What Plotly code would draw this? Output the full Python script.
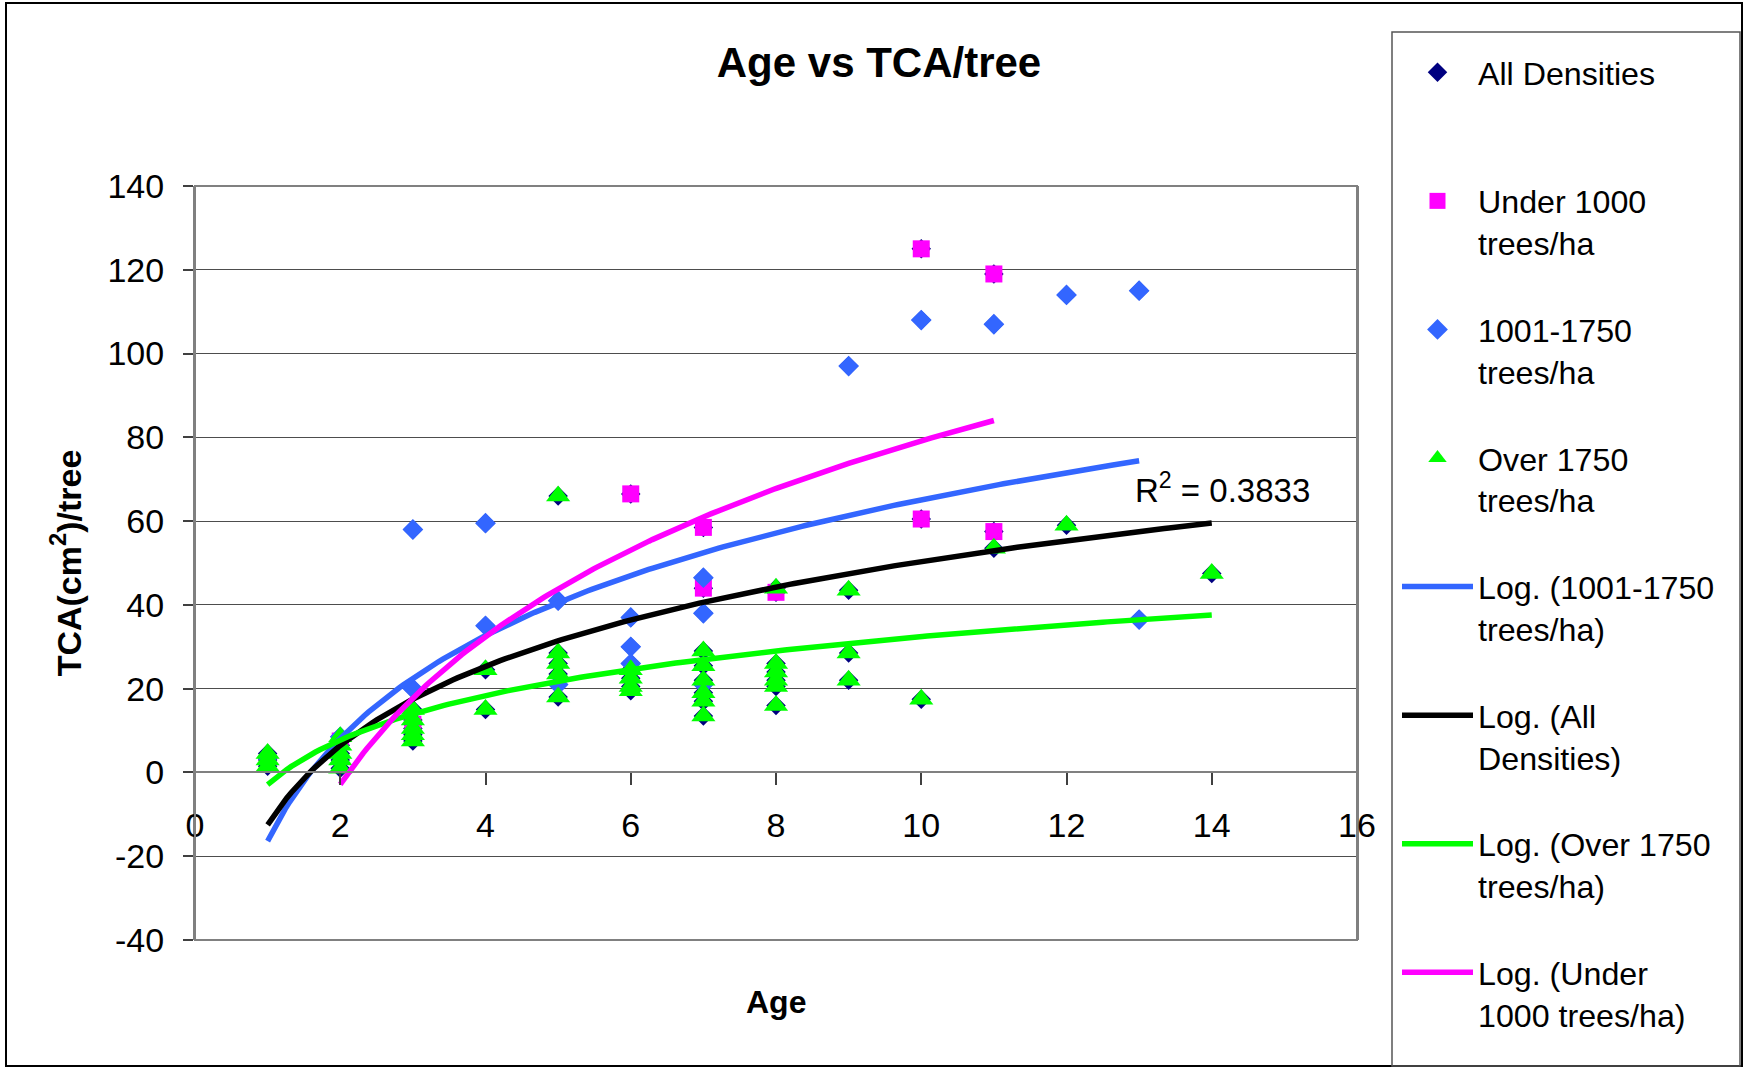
import numpy as np
import plotly.graph_objects as go

# ---------------- data ----------------
under_x = [2, 3, 6, 7, 7, 8, 10, 10, 11, 11]
under_y = [7.5, 11.5, 66.5, 58.5, 44, 43, 125, 60.5, 119, 57.5]

mid_x = [1, 2, 3, 3, 4, 4, 5, 5, 6, 6, 6, 7, 7, 7, 9, 10, 11, 12, 13, 13]
mid_y = [3.5, 8.5, 58, 20, 59.5, 35, 41, 21, 37, 30, 26, 46.5, 38, 21, 97, 108, 107, 114, 115, 36.5]

over_x = [1, 1, 1,
          2, 2, 2, 2, 2,
          3, 3, 3, 3, 3,
          4, 4,
          5, 5, 5, 5, 5,
          6, 6, 6, 6,
          7, 7, 7, 7, 7, 7,
          8, 8, 8, 8, 8, 8,
          9, 9, 9,
          10, 11, 12, 14]
over_y = [4.5, 3, 1.5,
          8.5, 6.5, 4.5, 3, 1,
          15, 12.5, 10.5, 9, 7.5,
          24.5, 15,
          66, 28.5, 26, 23.5, 18,
          24.5, 22.5, 20.5, 19.5,
          29, 25.5, 22, 19, 17, 13.5,
          44, 26, 24, 22, 20.5, 16,
          43.5, 28.5, 22,
          17.5, 53.5, 59, 47.5]

# All Densities = every plotted point
all_x = under_x + mid_x + over_x
all_y = under_y + mid_y + over_y

# logarithmic trendlines y = a*ln(x) + b (coefficients)
trend_names = ["Log. (1001-1750<br>trees/ha)", "Log. (All<br>Densities)",
               "Log. (Over 1750<br>trees/ha)", "Log. (Under<br>1000 trees/ha)"]
trend_a = [35.4, 27.3, 15.35, 50.97]
trend_b = [-16.4, -12.5, -2.9, -38.2]
trend_x0 = [1, 1, 1, 2]
trend_x1 = [13, 14, 14, 11]
trend_colors = ["#3366FF", "#000000", "#00FF00", "#FF00FF"]

r2_text = "R<sup>2</sup> = 0.3833"

x_ticks = [0, 2, 4, 6, 8, 10, 12, 14, 16]
y_ticks = [-40, -20, 0, 20, 40, 60, 80, 100, 120, 140]

# ---------------- figure ----------------
FONT = "Liberation Sans, Arial, sans-serif"
BLANK = "\u00a0"


def lg(text):
    parts = text.split("<br>")
    if len(parts) == 1:
        return BLANK + "<br>" + text + "<br>" + BLANK
    return BLANK + "<br>" + text


fig = go.Figure()

fig.add_trace(go.Scatter(x=all_x, y=all_y, mode="markers", name=lg("All Densities"),
                         marker=dict(symbol="diamond", size=15, color="#000080")))
fig.add_trace(go.Scatter(x=under_x, y=under_y, mode="markers", name=lg("Under 1000<br>trees/ha"),
                         marker=dict(symbol="square", size=17, color="#FF00FF")))
fig.add_trace(go.Scatter(x=mid_x, y=mid_y, mode="markers", name=lg("1001-1750<br>trees/ha"),
                         marker=dict(symbol="diamond", size=16, color="#3366FF")))
fig.add_trace(go.Scatter(x=over_x, y=over_y, mode="markers", name=lg("Over 1750<br>trees/ha"),
                         marker=dict(symbol="triangle-up", size=21, color="#00FF00")))

for name, a, b, x0, x1, c in zip(trend_names, trend_a, trend_b, trend_x0, trend_x1, trend_colors):
    xs = np.linspace(x0, x1, 200)
    ys = a * np.log(xs) + b
    fig.add_trace(go.Scatter(x=xs, y=ys, mode="lines", name=lg(name),
                             line=dict(color=c, width=5.5)))

# pixel geometry
W, H = 1747, 1068
L, R, T, B = 195, 390, 186, 128
PW, PH = W - L - R, H - T - B


def px_x(p):
    return (p - L) / PW


def px_y(p):
    return (H - B - p) / PH


y0_pos = (0 - (-40)) / 180.0

fig.update_layout(
    width=W, height=H,
    margin=dict(l=L, r=R, t=T, b=B, autoexpand=False),
    paper_bgcolor="white", plot_bgcolor="rgba(0,0,0,0)",
    font=dict(family=FONT, size=32, color="black"),
    title=dict(text="<b>Age vs TCA/tree</b>", font=dict(family=FONT, size=42, color="black"),
               x=879 / W, xref="container", xanchor="center",
               y=1 - 62 / H, yref="container", yanchor="middle"),
    showlegend=True,
    legend=dict(x=px_x(1397), xref="paper", xanchor="left",
                y=1 - 3 / H, yref="container", yanchor="top",
                font=dict(family=FONT, size=32.2, color="black"),
                itemwidth=71, bgcolor="rgba(0,0,0,0)", borderwidth=0,
                tracegroupgap=0, maxheight=1064),
    xaxis=dict(range=[0, 16], anchor="free", position=y0_pos,
               tickmode="array", tickvals=x_ticks, ticktext=[str(v) for v in x_ticks],
               ticks="outside", ticklen=12, tickwidth=1.5, tickcolor="#404040",
               showline=True, linecolor="#808080", linewidth=2,
               showgrid=False, zeroline=False, automargin=False,
               tickfont=dict(family=FONT, size=34), ticklabelstandoff=11),
    yaxis=dict(range=[-40, 140], tickmode="array", tickvals=y_ticks,
               ticktext=[str(v) for v in y_ticks],
               ticks="outside", ticklen=10, tickwidth=1.5, tickcolor="#404040",
               showline=True, mirror=True, linecolor="#808080", linewidth=2,
               showgrid=True, gridcolor="#4d4d4d", gridwidth=1.3, zeroline=False,
               automargin=False,
               tickfont=dict(family=FONT, size=34), ticklabelstandoff=12,
               title=dict(text="<b>TCA(cm<sup>2</sup>)/tree</b>", font=dict(family=FONT, size=34),
                          standoff=16)),
    annotations=[
        dict(text=r2_text, xref="x", yref="y", x=12.92, y=67.9,
             xanchor="left", yanchor="middle", showarrow=False,
             font=dict(family=FONT, size=33, color="black")),
        dict(text="<b>Age</b>", xref="paper", yref="paper", x=0.5, y=px_y(1001.6),
             xanchor="center", yanchor="middle", showarrow=False,
             font=dict(family=FONT, size=32, color="black")),
    ],
    shapes=[
        dict(type="rect", xref="paper", yref="paper", x0=0, x1=1, y0=0, y1=1,
             line=dict(color="#808080", width=2), fillcolor="rgba(0,0,0,0)", layer="above"),
        dict(type="rect", xref="paper", yref="paper",
             x0=px_x(6), x1=px_x(1742), y0=px_y(1066), y1=px_y(3),
             line=dict(color="black", width=2), fillcolor="rgba(0,0,0,0)", layer="below"),
        dict(type="rect", xref="paper", yref="paper",
             x0=px_x(1392), x1=px_x(1740), y0=px_y(1066), y1=px_y(32),
             line=dict(color="#555555", width=1.5), fillcolor="rgba(0,0,0,0)", layer="below"),
    ],
)

fig.write_html("out.html", config={"displayModeBar": False},
               post_script="document.body.style.margin='0';")
